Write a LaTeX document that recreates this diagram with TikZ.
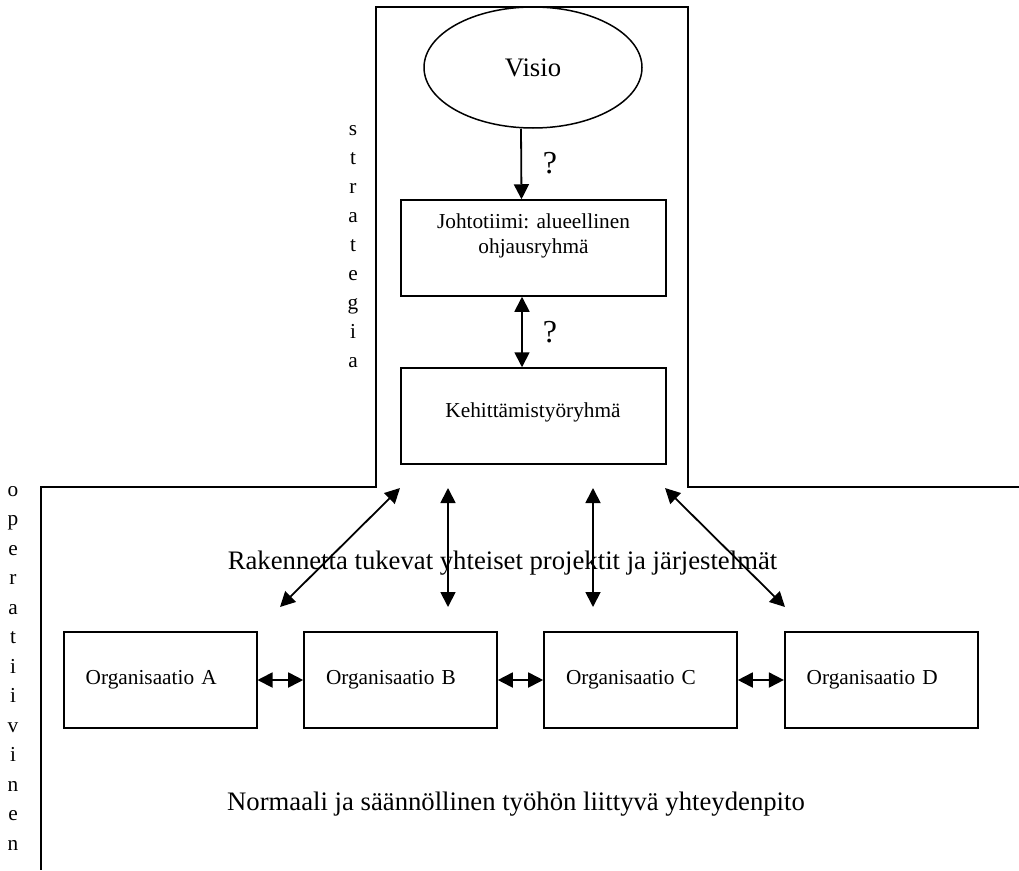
\documentclass[tikz,border=0pt]{standalone}
\usepackage{fontspec}
\setmainfont{Liberation Serif}
\usetikzlibrary{arrows.meta,shapes.geometric}
\begin{document}
\begin{tikzpicture}[x=1pt,y=-1pt,
  frame/.style={line width=1.5pt},
  groupbox/.style={draw,line width=1.5pt,minimum width=265pt,minimum height=96pt,inner sep=0pt},
  orgbox/.style={draw,line width=1.6pt,minimum width=193pt,minimum height=96pt,inner sep=0pt,
    text width=149pt,align=left,font=\fontsize{21.3}{25}\selectfont},
  boxtext/.style={font=\fontsize{21.3}{25}\selectfont,inner sep=0pt},
  bigtext/.style={font=\fontsize{26.7}{30}\selectfont,inner sep=0pt},
  qmark/.style={font=\fontsize{32}{32}\selectfont,inner sep=0pt},
  vertword/.style={align=center,inner sep=0pt},
  tip/.tip={Triangle[length=15pt,width=15pt]},
  link/.style={line width=1.8pt,-tip},
  dlink/.style={line width=1.8pt,tip-tip}]
\useasboundingbox (0,0) rectangle (1019,870);

% outline separating the strategic and operative levels
\draw[frame] (1019,487) -- (688,487) -- (688,7) -- (376,7) -- (376,487) -- (41,487) -- (41,870);

% vertical side labels
\node[vertword,font=\fontsize{21.3}{29}\selectfont] (strat) at (353,247)
  {s\\t\\r\\a\\t\\e\\g\\i\\a};
\node[vertword,font=\fontsize{21.3}{29.5}\selectfont] (oper) at (13,668)
  {o\\p\\e\\r\\a\\t\\i\\i\\v\\i\\n\\e\\n};

% strategic level
\node[draw,ellipse,line width=1.5pt,minimum width=218pt,minimum height=121pt,inner sep=0pt,
  font=\fontsize{26.7}{30}\selectfont] (visio) at (533,67.5) {Visio};
\node[groupbox] (johto) at (533.5,248) {};
\node[boxtext,align=center] (johtotext) at (533.5,236) {Johtotiimi: alueellinen\\ohjausryhmä};
\node[groupbox] (kehit) at (533.5,416) {};
\node[boxtext] (kehittext) at (533,412) {Kehittämistyöryhmä};

\draw[link] ([xshift=-12pt]visio.south) -- ([xshift=-12pt]johto.north);
\draw[dlink] ([xshift=-11.5pt]johto.south) -- ([xshift=-11.5pt]kehit.north);
\node[qmark] (q1) at (550,163) {?};
\node[qmark] (q2) at (550,332) {?};

% operative level
\node[orgbox] (orgA) at (160.2,680) {Organisaatio A};
\node[orgbox] (orgB) at (400.5,680) {Organisaatio B};
\node[orgbox] (orgC) at (640.5,680) {Organisaatio C};
\node[orgbox] (orgD) at (881.2,680) {Organisaatio D};

\draw[dlink] (orgA.east) -- (orgB.west);
\draw[dlink] (orgB.east) -- (orgC.west);
\draw[dlink] (orgC.east) -- (orgD.west);

% shared projects between the development group and the organisations
\coordinate (sA) at (400,488);
\coordinate (eA) at (280,607);
\coordinate (sB) at (448,488);
\coordinate (eB) at (448,607);
\coordinate (sC) at (593,488);
\coordinate (eC) at (593,607);
\coordinate (sD) at (665,488);
\coordinate (eD) at (785,607);
\draw[dlink] (sA) -- (eA);
\draw[dlink] (sB) -- (eB);
\draw[dlink] (sC) -- (eC);
\draw[dlink] (sD) -- (eD);

\node[bigtext] (shared) at (502.5,563) {Rakennetta tukevat yhteiset projektit ja järjestelmät};
\node[bigtext] (normal) at (516,804) {Normaali ja säännöllinen työhön liittyvä yhteydenpito};
\end{tikzpicture}
\end{document}
